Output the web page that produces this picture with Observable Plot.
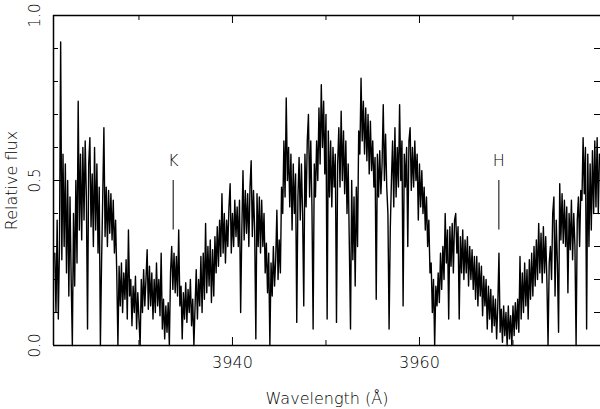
<!DOCTYPE html>
<html><head><meta charset="utf-8">
<script src="https://cdn.jsdelivr.net/npm/d3@7"></script>
<script src="https://cdn.jsdelivr.net/npm/@observablehq/plot@0.6"></script>
<style>html,body{margin:0;padding:0;background:#fff}</style>
</head><body><div id="chart"></div>
<script>
// Spectrum sampled on a uniform wavelength grid (Å), one row per Å
const waveStart = 3921.0;
const waveStep = 0.125;
const flux = [
  0.28, 0.10, 0.38, 0.08, 0.30, 0.92, 0.26, 0.58,
  0.30, 0.55, 0.22, 0.50, 0.15, 0.45, 0.20, 0.00,
  0.40, 0.18, 0.50, 0.25, 0.74, 0.35, 0.58, 0.32,
  0.60, 0.38, 0.62, 0.45, 0.05, 0.55, 0.63, 0.36,
  0.52, 0.30, 0.60, 0.35, 0.55, 0.28, 0.48, 0.00,
  0.25, 0.45, 0.66, 0.33, 0.48, 0.30, 0.47, 0.34,
  0.46, 0.32, 0.44, 0.28, 0.38, 0.22, 0.00, 0.24,
  0.12, 0.25, 0.10, 0.22, 0.14, 0.26, 0.08, 0.35,
  0.15, 0.20, 0.06, 0.18, 0.10, 0.21, 0.05, 0.16,
  0.08, 0.00, 0.20, 0.10, 0.23, 0.12, 0.20, 0.29,
  0.11, 0.24, 0.12, 0.22, 0.08, 0.20, 0.10, 0.25,
  0.12, 0.20, 0.09, 0.28, 0.05, 0.14, 0.02, 0.12,
  0.04, 0.13, 0.00, 0.22, 0.30, 0.17, 0.28, 0.16,
  0.27, 0.15, 0.35, 0.12, 0.18, 0.02, 0.16, 0.08,
  0.19, 0.07, 0.17, 0.10, 0.20, 0.06, 0.14, 0.00,
  0.12, 0.23, 0.08, 0.20, 0.12, 0.27, 0.10, 0.28,
  0.14, 0.37, 0.16, 0.30, 0.18, 0.32, 0.13, 0.29,
  0.15, 0.33, 0.22, 0.36, 0.24, 0.38, 0.27, 0.46,
  0.28, 0.40, 0.25, 0.38, 0.30, 0.42, 0.49, 0.28,
  0.40, 0.30, 0.44, 0.33, 0.42, 0.30, 0.44, 0.10,
  0.35, 0.53, 0.32, 0.47, 0.34, 0.46, 0.30, 0.48,
  0.56, 0.33, 0.47, 0.35, 0.02, 0.46, 0.30, 0.45,
  0.28, 0.44, 0.30, 0.40, 0.22, 0.31, 0.16, 0.28,
  0.00, 0.25, 0.15, 0.30, 0.18, 0.26, 0.41, 0.20,
  0.32, 0.22, 0.48, 0.40, 0.62, 0.45, 0.75, 0.50,
  0.60, 0.42, 0.58, 0.35, 0.55, 0.40, 0.52, 0.07,
  0.45, 0.57, 0.38, 0.55, 0.40, 0.12, 0.58, 0.42,
  0.62, 0.70, 0.45, 0.62, 0.42, 0.05, 0.55, 0.45,
  0.62, 0.50, 0.72, 0.55, 0.79, 0.60, 0.74, 0.52,
  0.70, 0.08, 0.65, 0.45, 0.62, 0.42, 0.60, 0.48,
  0.58, 0.07, 0.55, 0.66, 0.48, 0.71, 0.50, 0.65,
  0.46, 0.62, 0.40, 0.55, 0.30, 0.05, 0.50, 0.26,
  0.45, 0.18, 0.48, 0.30, 0.65, 0.58, 0.81, 0.62,
  0.74, 0.58, 0.72, 0.56, 0.70, 0.52, 0.68, 0.53,
  0.62, 0.48, 0.57, 0.14, 0.58, 0.45, 0.59, 0.46,
  0.55, 0.73, 0.50, 0.64, 0.48, 0.40, 0.05, 0.35,
  0.50, 0.62, 0.42, 0.66, 0.45, 0.60, 0.48, 0.73,
  0.50, 0.62, 0.12, 0.58, 0.48, 0.60, 0.30, 0.62,
  0.66, 0.47, 0.60, 0.48, 0.62, 0.50, 0.58, 0.38,
  0.55, 0.42, 0.53, 0.40, 0.48, 0.35, 0.45, 0.30,
  0.38, 0.22, 0.25, 0.10, 0.20, 0.00, 0.18, 0.12,
  0.22, 0.13, 0.28, 0.17, 0.30, 0.20, 0.40, 0.25,
  0.35, 0.08, 0.36, 0.24, 0.37, 0.22, 0.38, 0.40,
  0.28, 0.36, 0.08, 0.33, 0.22, 0.35, 0.20, 0.32,
  0.22, 0.33, 0.18, 0.30, 0.20, 0.29, 0.17, 0.27,
  0.14, 0.27, 0.12, 0.25, 0.15, 0.24, 0.09, 0.21,
  0.12, 0.20, 0.05, 0.18, 0.08, 0.17, 0.04, 0.15,
  0.06, 0.14, 0.02, 0.12, 0.28, 0.04, 0.11, 0.01,
  0.12, 0.03, 0.10, 0.00, 0.12, 0.02, 0.09, 0.00,
  0.12, 0.03, 0.13, 0.05, 0.14, 0.04, 0.27, 0.08,
  0.22, 0.10, 0.25, 0.12, 0.23, 0.08, 0.26, 0.14,
  0.28, 0.15, 0.30, 0.18, 0.32, 0.20, 0.37, 0.22,
  0.34, 0.19, 0.36, 0.22, 0.33, 0.20, 0.00, 0.25,
  0.30, 0.20, 0.40, 0.45, 0.15, 0.38, 0.25, 0.04,
  0.49, 0.32, 0.46, 0.31, 0.44, 0.30, 0.42, 0.16,
  0.40, 0.29, 0.44, 0.26, 0.40, 0.30, 0.00, 0.38,
  0.45, 0.30, 0.47, 0.44, 0.63, 0.46, 0.60, 0.05,
  0.58, 0.30, 0.55, 0.35, 0.59, 0.40, 0.62, 0.42,
  0.63, 0.40, 0.58
];

const xDomain = [3920.86, 3979.36];
const yDomain = [0, 1];
const xTickMajor = [3940, 3960];
const xTickMinor = [3930, 3950, 3970];
const yTickMajor = [0, 0.5, 1.0];
const yTickMinor = [0.1, 0.2, 0.3, 0.4, 0.6, 0.7, 0.8, 0.9];
const lineNames = ["K", "H"];
const lineWaves = [3933.66, 3968.49];
const markerBottom = 0.35, markerTop = 0.5, labelLevel = 0.56;
const xTitle = "Wavelength (Å)";
const yTitle = "Relative flux";

const W = 600, H = 409, mL = 53, mR = 0, mT = 15, mB = 64;
const pw = W - mL - mR, ph = H - mT - mB;

const spectrum = flux.map((f, i) => ({w: waveStart + i * waveStep, f}));
const lines = lineNames.map((n, i) => ({name: n, w: lineWaves[i]}));

const txt = {fill: "black", fontSize: 16, fontWeight: 200, textAnchor: "middle", lineAnchor: "middle"};

const chart = Plot.plot({
  width: W, height: H,
  marginLeft: mL, marginRight: mR, marginTop: mT, marginBottom: mB,
  x: {domain: xDomain, axis: null},
  y: {domain: yDomain, axis: null},
  style: {fontFamily: "'DejaVu Sans', sans-serif", background: "white", color: "black", overflow: "visible"},
  marks: [
    Plot.line(spectrum, {x: "w", y: "f", stroke: "black", strokeWidth: 1.4}),
    // frame (top, bottom, left)
    Plot.ruleY(yDomain, {y: d => d, stroke: "black", strokeWidth: 1.5}),
    Plot.ruleX([xDomain[0]], {x: d => d, stroke: "black", strokeWidth: 1.5}),
    // ticks (inward)
    Plot.tickX(xTickMajor, {x: d => d, insetTop: ph - 8, stroke: "black"}),
    Plot.tickX(xTickMajor, {x: d => d, insetBottom: ph - 8, stroke: "black"}),
    Plot.tickX(xTickMinor, {x: d => d, insetTop: ph - 5, stroke: "black"}),
    Plot.tickX(xTickMinor, {x: d => d, insetBottom: ph - 5, stroke: "black"}),
    Plot.tickY(yTickMajor, {y: d => d, insetRight: pw - 8, stroke: "black"}),
    Plot.tickY(yTickMajor, {y: d => d, insetLeft: pw - 8, stroke: "black"}),
    Plot.tickY(yTickMinor, {y: d => d, insetRight: pw - 5, stroke: "black"}),
    Plot.tickY(yTickMinor, {y: d => d, insetLeft: pw - 6, stroke: "black"}),
    // tick labels
    Plot.text(xTickMajor, {x: d => d, frameAnchor: "bottom", dy: 17, text: d => String(d), ...txt}),
    Plot.text(yTickMajor, {y: d => d, frameAnchor: "left", dx: -18, rotate: -90, text: d => d.toFixed(1), ...txt, fontSize: 15}),
    // axis titles
    Plot.text([xTitle], {frameAnchor: "bottom", dy: 53, text: d => d, ...txt}),
    Plot.text([yTitle], {frameAnchor: "left", dx: -42, rotate: -90, text: d => d, ...txt}),
    // Ca II line markers
    Plot.ruleX(lines, {x: "w", y1: markerBottom, y2: markerTop, stroke: "black", strokeWidth: 1}),
    Plot.text(lines, {x: "w", y: labelLevel, text: "name", ...txt})
  ]
});
document.getElementById("chart").appendChild(chart);
</script>
</body></html>
